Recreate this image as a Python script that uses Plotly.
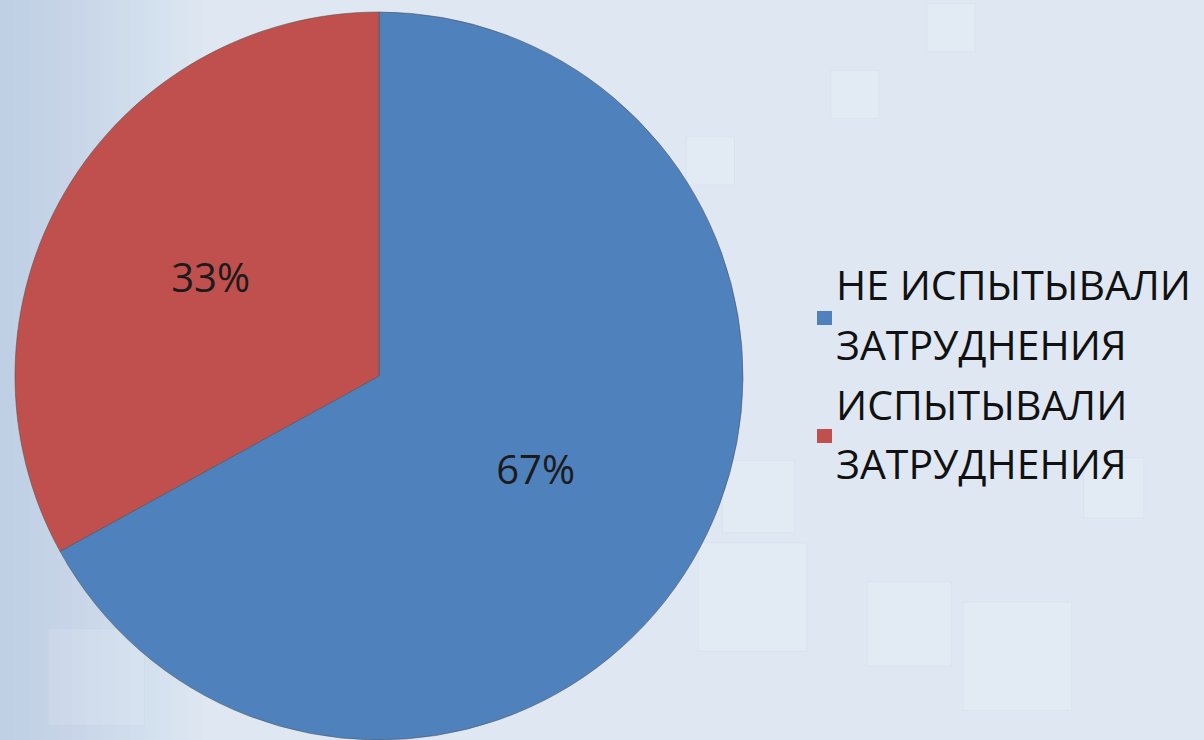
import plotly.graph_objects as go

labels = ["НЕ ИСПЫТЫВАЛИ ЗАТРУДНЕНИЯ", "ИСПЫТЫВАЛИ ЗАТРУДНЕНИЯ"]
legend_lines = [["НЕ ИСПЫТЫВАЛИ", "ЗАТРУДНЕНИЯ"], ["ИСПЫТЫВАЛИ", "ЗАТРУДНЕНИЯ"]]
values = [67, 33]
colors = ["#4F81BD", "#C0504D"]

W, H = 1204, 740
FONT = "Open Sans"

fig = go.Figure()
fig.add_trace(go.Pie(
    labels=labels,
    values=values,
    sort=False,
    direction="clockwise",
    rotation=0,
    marker=dict(colors=colors, line=dict(color="rgba(80,80,80,0.55)", width=1)),
    textinfo="percent",
    texttemplate="%{percent:.0%}",
    textposition="inside",
    insidetextorientation="horizontal",
    textfont=dict(family=FONT, size=40, color="#1b1b1b"),
    domain=dict(x=[15 / W, 743 / W], y=[0, 728 / H]),
    showlegend=False,
    hoverinfo="label+percent",
))

# фон: плавный голубой градиент к левому краю
shapes = []
for i in range(14):
    shapes.append(dict(type="rect", xref="paper", yref="paper", layer="below",
                       x0=0, x1=0.012 + i * 0.012, y0=0, y1=1,
                       fillcolor="rgba(120,160,210,0.025)", line=dict(width=0)))
# декоративные квадраты
for x0, y0, s in [(0.58, 0.12, 0.09), (0.72, 0.10, 0.07), (0.80, 0.04, 0.09),
                  (0.60, 0.28, 0.06), (0.04, 0.02, 0.08), (0.90, 0.30, 0.05),
                  (0.57, 0.75, 0.04), (0.69, 0.84, 0.04), (0.77, 0.93, 0.04)]:
    shapes.append(dict(type="rect", xref="paper", yref="paper", layer="below",
                       x0=x0, x1=x0 + s, y0=y0, y1=y0 + s * W / H,
                       fillcolor="rgba(255,255,255,0.12)",
                       line=dict(color="rgba(170,195,225,0.12)", width=1)))

# легенда: маркеры и подписи
marker_y = [318, 436]
line_y = [[284, 344], [404, 463]]
annotations = []
for k in range(len(labels)):
    shapes.append(dict(type="rect", xref="paper", yref="paper",
                       x0=817 / W, x1=832 / W,
                       y0=1 - (marker_y[k] + 7) / H, y1=1 - (marker_y[k] - 7) / H,
                       fillcolor=colors[k], line=dict(width=0)))
    for txt, yy in zip(legend_lines[k], line_y[k]):
        annotations.append(dict(text=txt, xref="paper", yref="paper",
                                x=834 / W, y=1 - yy / H, xanchor="left", yanchor="middle",
                                showarrow=False,
                                font=dict(family=FONT, size=41, color="#111111")))

fig.update_layout(
    width=W, height=H,
    margin=dict(l=0, r=0, t=0, b=0),
    paper_bgcolor="#dfe8f2",
    plot_bgcolor="#dfe8f2",
    shapes=shapes,
    annotations=annotations,
    font=dict(family=FONT),
)

fig.write_html("out.html", config={"displayModeBar": False},
               post_script="document.body.style.margin='0';document.body.style.overflow='hidden';")
